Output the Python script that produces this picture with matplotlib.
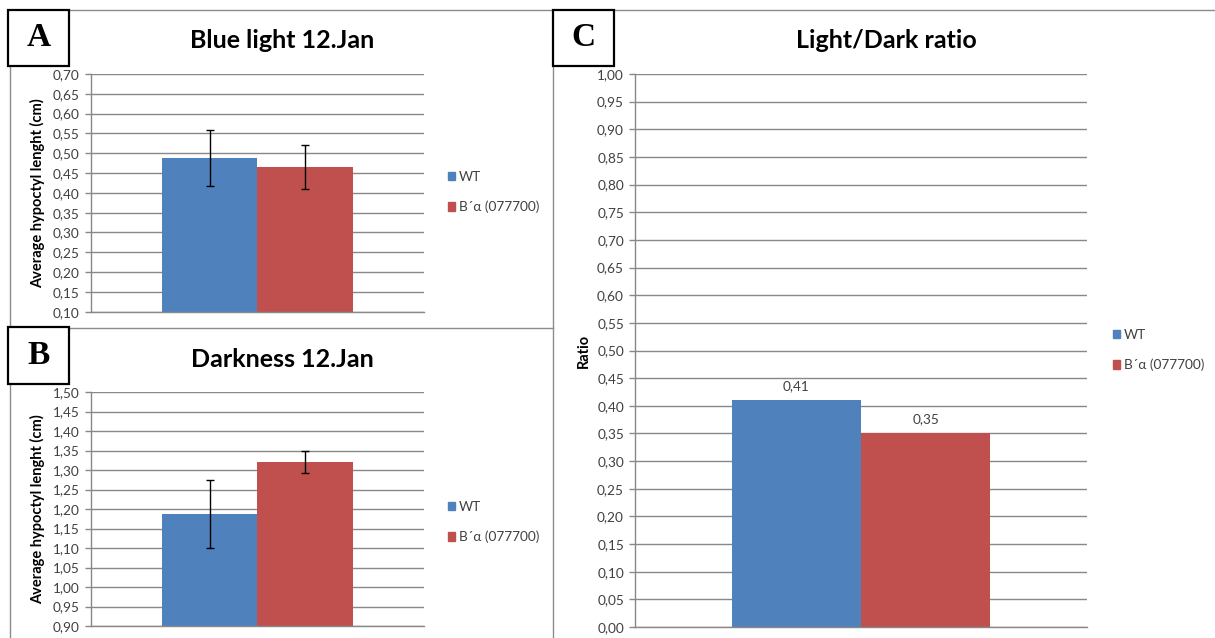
import matplotlib
matplotlib.use("Agg")
import matplotlib.pyplot as plt
from matplotlib.lines import Line2D
from matplotlib.patches import Rectangle

plt.rcParams['font.family'] = ['Lato', 'DejaVu Sans']

# ---- data ----
series = ["WT", "B\u00b4\u03b1 (077700)"]
colors = ["#4F81BD", "#C0504D"]

blue_means = [0.488, 0.465]
blue_err = [0.070, 0.056]
dark_means = [1.187, 1.320]
dark_err = [0.088, 0.028]
ratio_vals = [0.41, 0.35]

blue_ticks = [round(0.10 + 0.05 * i, 2) for i in range(13)]
dark_ticks = [round(0.90 + 0.05 * i, 2) for i in range(13)]
ratio_ticks = [round(0.05 * i, 2) for i in range(21)]

# ---- layout helpers (pixel space) ----
W, H = 1215, 638
fig = plt.figure(figsize=(W / 100, H / 100), dpi=100)


def px_rect(x0, y0, x1, y1):
    return [x0 / W, 1 - y1 / H, (x1 - x0) / W, (y1 - y0) / H]


def fline(x0, y0, x1, y1, color="#8c8c8c", lw=1.0):
    fig.add_artist(Line2D([x0 / W, x1 / W], [1 - y0 / H, 1 - y1 / H],
                          color=color, lw=lw, transform=fig.transFigure))


def letter_box(x0, y0, x1, y1, letter):
    fig.add_artist(Rectangle((x0 / W, 1 - y1 / H), (x1 - x0) / W, (y1 - y0) / H,
                             transform=fig.transFigure, facecolor="white",
                             edgecolor="black", lw=1.6, zorder=5))
    fig.text((x0 + x1) / 2 / W, 1 - (y0 + y1) / 2 / H, letter,
             family=["Liberation Serif"], weight="bold", fontsize=24,
             ha="center", va="center", zorder=6)


GRID = "#888888"
TICKC = "#404040"
w = 1 / 3.5  # bar width with 150% gap
FS = 9.8


def style_axes(ax, ticks, ylabel, label_x):
    ax.set_ylim(ticks[0], ticks[-1])
    ax.set_yticks(ticks)
    ax.set_yticklabels([f"{t:.2f}".replace(".", ",") for t in ticks],
                       fontsize=FS, color=TICKC)
    ax.set_xlim(-0.5, 0.5)
    ax.set_xticks([])
    for s in ("top", "right"):
        ax.spines[s].set_visible(False)
    for s in ("left", "bottom"):
        ax.spines[s].set_color(GRID)
        ax.spines[s].set_linewidth(1.0)
    ax.tick_params(axis="y", direction="out", length=4, color=GRID, width=1.0, pad=4)
    ax.yaxis.grid(True, color=GRID, lw=1.0)
    ax.set_axisbelow(True)
    ax.set_ylabel(ylabel, fontsize=10.5, weight="bold", color="black")
    ax.yaxis.set_label_coords(label_x, 0.5)


def draw_bars(ax, vals, errs=None):
    xs = [-w / 2, w / 2]
    bars = []
    for i in range(2):
        b = ax.bar(xs[i], vals[i], width=w, color=colors[i], label=series[i], zorder=2)
        bars.append(b)
        if errs is not None:
            ax.errorbar(xs[i], vals[i], yerr=errs[i], fmt="none", ecolor="black",
                        elinewidth=1.0, capsize=3, capthick=1.0, zorder=3)
    return bars


def add_legend(ax, x, y_wt):
    # legend anchored in pixel coords via the figure
    leg = fig.legend(handles=[Rectangle((0, 0), 1, 1, color=c) for c in colors],
                     labels=series, loc="upper left",
                     bbox_to_anchor=(x / W, 1 - (y_wt - 7) / H),
                     frameon=False, fontsize=FS, handlelength=0.55, handleheight=0.55,
                     handletextpad=0.25, labelspacing=1.3, borderpad=0,
                     borderaxespad=0)
    for t in leg.get_texts():
        t.set_color(TICKC)


# ---- panel A ----
axA = fig.add_axes(px_rect(90.7, 74, 424, 311.7))
draw_bars(axA, blue_means, blue_err)
style_axes(axA, blue_ticks, "Average hypoctyl lenght (cm)", -0.137)
fig.text(282 / W, 1 - 41 / H, "Blue light 12.Jan", fontsize=18, weight="bold",
         ha="center", va="center")
add_legend(axA, 448, 178)

# ---- panel B ----
axB = fig.add_axes(px_rect(90.7, 392, 424, 626))
draw_bars(axB, dark_means, dark_err)
style_axes(axB, dark_ticks, "Average hypoctyl lenght (cm)", -0.137)
fig.text(282 / W, 1 - 360 / H, "Darkness 12.Jan", fontsize=18, weight="bold",
         ha="center", va="center")
add_legend(axB, 448, 508)

# ---- panel C ----
axC = fig.add_axes(px_rect(635, 74, 1087, 627))
barsC = draw_bars(axC, ratio_vals)
style_axes(axC, ratio_ticks, "Ratio", -0.097)
for b, v in zip(barsC, ratio_vals):
    r = b[0]
    axC.annotate(f"{v:.2f}".replace(".", ","),
                 (r.get_x() + r.get_width() / 2, v), xytext=(0, 10.5),
                 textcoords="offset points", ha="center", va="center",
                 fontsize=FS, color=TICKC)
fig.text(886 / W, 1 - 41 / H, "Light/Dark ratio", fontsize=18, weight="bold",
         ha="center", va="center")
add_legend(axC, 1113, 336)

# ---- panel frames ----
fline(10, 10, 1215, 10)
fline(10, 10, 10, 638)
fline(10, 328, 553, 328)
fline(553, 10, 553, 638)

letter_box(8, 10, 69, 66, "A")
letter_box(8, 327, 69, 384, "B")
letter_box(553, 10, 614, 66, "C")

fig.savefig("out.png", dpi=100, facecolor="white")
